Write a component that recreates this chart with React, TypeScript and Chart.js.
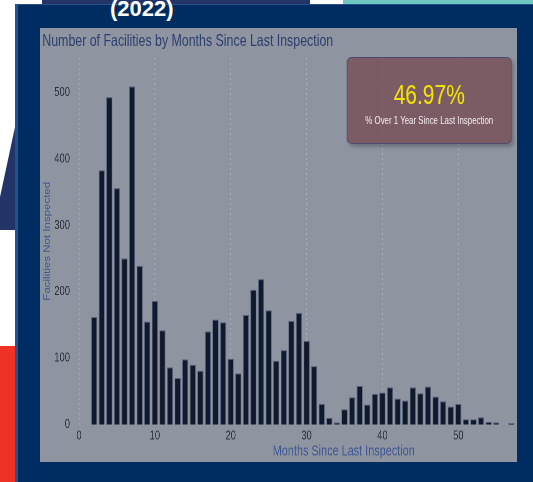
import React, { useEffect, useRef } from 'react';
import { Chart, registerables } from 'chart.js';

Chart.register(...registerables);

const TITLE = 'Number of Facilities by Months Since Last Inspection';
const X_TITLE = 'Months Since Last Inspection';
const Y_TITLE = 'Facilities Not Inspected';
const KPI_VALUE = '46.97%';
const KPI_LABEL = '% Over 1 Year Since Last Inspection';
const YEAR_LABEL = '(2022)';

const MONTHS = [
  2, 3, 4, 5, 6, 7, 8, 9, 10, 11, 12, 13, 14, 15, 16, 17, 18, 19, 20, 21,
  22, 23, 24, 25, 26, 27, 28, 29, 30, 31, 32, 33, 34, 35, 36, 37, 38, 39, 40,
  41, 42, 43, 44, 45, 46, 47, 48, 49, 50, 51, 52, 53, 54, 55, 57,
];
const COUNTS = [
  162, 383, 493, 356, 250, 509, 239, 155, 186, 142, 86, 70, 98, 90, 81, 140,
  158, 154, 99, 77, 165, 203, 219, 172, 96, 112, 156, 168, 126, 88, 31, 10, 3,
  23, 41, 58, 30, 46, 48, 56, 39, 36, 56, 47, 57, 42, 35, 27, 31, 8, 8, 11, 4,
  3, 2,
];
const X_TICKS = [0, 10, 20, 30, 40, 50, 60, 70];
const Y_TICKS = [0, 100, 200, 300, 400, 500];

const FONT = '"Liberation Sans", Arial, sans-serif';
const SX = 0.75; // horizontal squeeze of the embedded chart screenshot
const INNER_W = 771;
const INNER_H = 434;

export default function App() {
  const canvasRef = useRef<HTMLCanvasElement | null>(null);

  useEffect(() => {
    if (!canvasRef.current) return;
    const chart = new Chart(canvasRef.current, {
      type: 'bar',
      data: {
        datasets: [
          {
            data: MONTHS.map((m, i) => ({ x: m, y: COUNTS[i] })),
            backgroundColor: '#111a2d',
            borderColor: '#56627c',
            borderWidth: 1,
            barPercentage: 0.8,
            categoryPercentage: 1,
          },
        ],
      },
      options: {
        animation: false,
        responsive: false,
        devicePixelRatio: 2,
        layout: { padding: { top: 30, left: 0, right: 0, bottom: 0 } },
        plugins: {
          legend: { display: false },
          tooltip: { enabled: false },
        },
        scales: {
          x: {
            type: 'linear',
            min: -0.5,
            max: 70.3,
            offset: false,
            grid: {
              display: true,
              offset: false,
              drawTicks: false,
              color: 'rgba(170,175,186,0.9)',
              lineWidth: 1.3,
            },
            border: { display: false, dash: [2, 3] },
            afterBuildTicks: (s: any) => {
              s.ticks = X_TICKS.map((v) => ({ value: v }));
            },
            ticks: {
              color: '#2e3138',
              font: { size: 12.5, family: FONT },
              padding: 4,
              autoSkip: false,
              maxRotation: 0,
            },
            title: {
              display: true,
              text: X_TITLE,
              color: '#3f5792',
              font: { size: 14.5, family: FONT },
              padding: { top: 0, bottom: 2 },
            },
            afterFit: (s: any) => {
              s.height = 37.5;
            },
          },
          y: {
            min: 0,
            max: 552,
            grid: { display: false, drawTicks: false },
            border: { display: false },
            afterBuildTicks: (s: any) => {
              s.ticks = Y_TICKS.map((v) => ({ value: v }));
            },
            ticks: {
              color: '#2e3138',
              font: { size: 12.5, family: FONT },
              padding: 7,
            },
            title: {
              display: true,
              text: Y_TITLE,
              color: '#3f5792',
              font: { size: 11.5, family: FONT },
              padding: { top: 3, bottom: 0 },
            },
            afterFit: (s: any) => {
              s.width = 46.9;
            },
          },
        },
      } as any,
    });
    return () => chart.destroy();
  }, []);

  return (
    <div
      style={{
        position: 'fixed',
        left: 0,
        top: 0,
        width: 533,
        height: 482,
        overflow: 'hidden',
        background: '#ffffff',
        fontFamily: FONT,
      }}
    >
      {/* top strip shapes */}
      <div style={{ position: 'absolute', left: 42, top: 0, width: 268, height: 5, background: '#223468' }} />
      <div style={{ position: 'absolute', left: 343, top: 0, width: 190, height: 5, background: '#6fc8bf' }} />
      {/* left decorative shapes */}
      <div
        style={{
          position: 'absolute',
          left: 0,
          top: 127,
          width: 15,
          height: 103,
          background: '#223468',
          clipPath: 'polygon(100% 0, 100% 100%, 0 100%, 0 68%)',
        }}
      />
      <div style={{ position: 'absolute', left: 0, top: 346, width: 15, height: 136, background: '#ee3224' }} />
      {/* dark blue panel */}
      <div
        style={{
          position: 'absolute',
          left: 15,
          top: 4,
          width: 518,
          height: 478,
          background: '#002d61',
          borderLeft: '3px solid #24508c',
          borderTop: '1px solid #24508c',
          boxSizing: 'border-box',
        }}
      />
      <div
        style={{
          position: 'absolute',
          left: 110,
          top: -3,
          color: '#ffffff',
          fontWeight: 'bold',
          fontSize: 22,
          lineHeight: '24px',
          whiteSpace: 'nowrap',
        }}
      >
        {YEAR_LABEL}
      </div>
      {/* gray chart area */}
      <div
        style={{
          position: 'absolute',
          left: 40,
          top: 28,
          width: 477,
          height: 434,
          overflow: 'hidden',
          background: '#8e94a0',
        }}
      >
        <div
          style={{
            position: 'absolute',
            left: 0,
            top: 0,
            width: INNER_W,
            height: INNER_H,
            transform: `scaleX(${SX})`,
            transformOrigin: '0 0',
          }}
        >
          <canvas
            ref={canvasRef}
            width={INNER_W}
            height={INNER_H}
            style={{ position: 'absolute', left: 0, top: 0, width: INNER_W, height: INNER_H }}
          />
          <div
            style={{
              position: 'absolute',
              left: 3,
              top: 4,
              fontSize: 16.5,
              lineHeight: '16.5px',
              color: '#2c3f6e',
              whiteSpace: 'nowrap',
            }}
          >
            {TITLE}
          </div>
          <div
            style={{
              position: 'absolute',
              left: 409,
              top: 29,
              width: 220,
              height: 87,
              boxSizing: 'border-box',
              background: 'rgba(116,68,76,0.7)',
              border: '1px solid rgba(72,72,112,0.85)',
              borderRadius: '7px / 5px',
              boxShadow: '3px 3px 4px rgba(40,40,60,0.3)',
            }}
          >
            <div
              style={{
                position: 'absolute',
                left: 0,
                width: '100%',
                top: 23,
                textAlign: 'center',
                fontSize: 28,
                lineHeight: '28px',
                color: '#f3e404',
                whiteSpace: 'nowrap',
              }}
            >
              {KPI_VALUE}
            </div>
            <div
              style={{
                position: 'absolute',
                left: 0,
                width: '100%',
                top: 57,
                textAlign: 'center',
                fontSize: 10.5,
                lineHeight: '11px',
                color: '#f4eef0',
                whiteSpace: 'nowrap',
              }}
            >
              {KPI_LABEL}
            </div>
          </div>
        </div>
      </div>
    </div>
  );
}
